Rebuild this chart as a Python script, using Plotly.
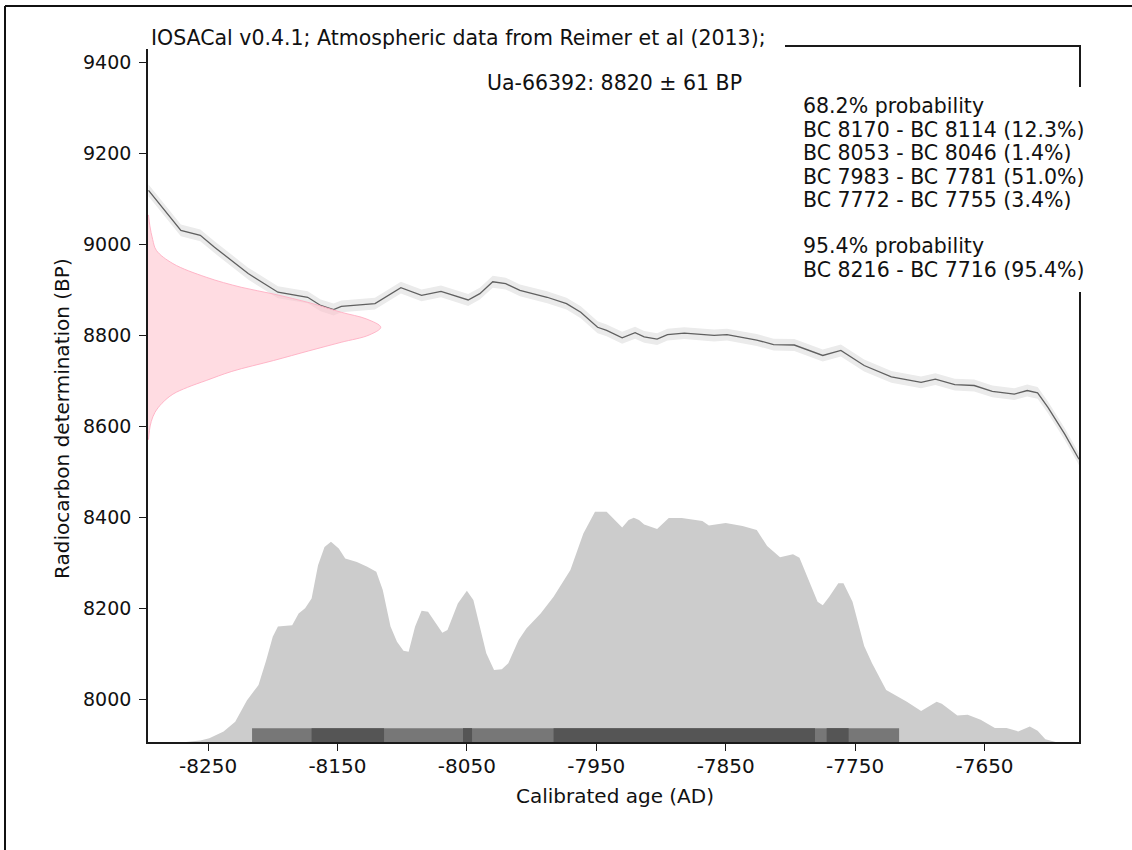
import plotly.graph_objects as go

# ---------------- data ----------------
# calibration curve (IntCal13 excerpt)
cal_years = [-8296, -8271, -8256, -8245, -8219, -8196, -8173, -8163, -8153, -8147,
             -8121, -8101, -8085, -8070, -8049, -8040, -8030, -8020, -8009, -7988,
             -7973, -7962, -7949, -7942, -7930, -7920, -7913, -7903, -7895, -7882,
             -7859, -7849, -7826, -7813, -7797, -7775, -7761, -7743, -7722, -7699,
             -7688, -7673, -7658, -7644, -7627, -7617, -7609, -7601, -7588, -7577]
cal_bp = [9118, 9030, 9019, 8993, 8935, 8894, 8883, 8865, 8856, 8863,
          8869, 8904, 8887, 8896, 8877, 8891, 8917, 8913, 8898, 8883,
          8869, 8850, 8817, 8810, 8794, 8805, 8796, 8791, 8801, 8804,
          8799, 8801, 8789, 8779, 8778, 8755, 8766, 8733, 8708, 8696,
          8703, 8691, 8689, 8676, 8670, 8678, 8673, 8641, 8582, 8527]
cal_sigma = [13, 13, 13, 13, 13, 13, 13, 13, 13, 13,
             13, 13, 13, 13, 13, 13, 13, 13, 13, 13,
             13, 13, 13, 13, 13, 13, 13, 13, 13, 13,
             13, 13, 13, 13, 13, 13, 13, 13, 13, 13,
             13, 13, 13, 13, 13, 13, 13, 13, 13, 13]

# radiocarbon determination density (relative), Ua-66392: 8820 +/- 61 BP
rc_bp = [9064, 9040, 9010, 8986, 8957, 8927, 8905, 8890, 8870, 8850, 8835, 8817,
         8800, 8784, 8765, 8744, 8720, 8700, 8685, 8670, 8650, 8630, 8610, 8590, 8570]
rc_density = [0.002, 0.008, 0.02, 0.036, 0.107, 0.25, 0.40, 0.54, 0.70, 0.83, 0.94, 1.0,
              0.95, 0.83, 0.69, 0.54, 0.36, 0.25, 0.17, 0.107, 0.06, 0.03, 0.014, 0.006, 0.002]

# calibrated age density (relative)
calib_years = [-8267, -8256, -8249, -8238, -8229, -8220, -8211, -8205, -8200, -8196,
               -8185, -8180, -8175, -8170, -8165, -8160, -8155, -8149, -8144, -8135,
               -8127, -8120, -8115, -8109, -8104, -8099, -8095, -8090, -8085, -8080,
               -8069, -8065, -8057, -8050, -8045, -8040, -8035, -8029, -8023, -8018,
               -8010, -8004, -7993, -7983, -7970, -7960, -7951, -7942, -7937, -7930,
               -7925, -7921, -7917, -7913, -7903, -7894, -7884, -7868, -7863, -7850,
               -7837, -7826, -7818, -7808, -7798, -7793, -7779, -7775, -7770, -7763,
               -7759, -7752, -7743, -7737, -7726, -7710, -7699, -7687, -7683, -7671,
               -7663, -7653, -7642, -7633, -7624, -7615, -7609, -7603, -7595]
calib_density = [0.0, 0.006, 0.016, 0.045, 0.088, 0.18, 0.247, 0.355, 0.456, 0.50,
                 0.506, 0.557, 0.579, 0.622, 0.766, 0.845, 0.867, 0.838, 0.795, 0.78,
                 0.759, 0.737, 0.658, 0.50, 0.434, 0.395, 0.391, 0.50, 0.568, 0.564,
                 0.473, 0.485, 0.60, 0.655, 0.615, 0.50, 0.384, 0.312, 0.315, 0.341,
                 0.442, 0.492, 0.557, 0.629, 0.745, 0.903, 0.997, 0.997, 0.968, 0.929,
                 0.961, 0.971, 0.962, 0.942, 0.923, 0.97, 0.97, 0.957, 0.938, 0.949,
                 0.935, 0.918, 0.849, 0.80, 0.813, 0.798, 0.607, 0.592, 0.629, 0.688,
                 0.688, 0.607, 0.416, 0.342, 0.225, 0.174, 0.134, 0.174, 0.166, 0.115,
                 0.118, 0.096, 0.061, 0.061, 0.046, 0.067, 0.049, 0.012, 0.0]

# highest posterior density intervals
hpd68_start = [-8170, -8053, -7983, -7772]
hpd68_end = [-8114, -8046, -7781, -7755]
hpd68_pct = [12.3, 1.4, 51.0, 3.4]
hpd95_start = [-8216]
hpd95_end = [-7716]
hpd95_pct = [95.4]

x_ticks = [-8250, -8150, -8050, -7950, -7850, -7750, -7650]
x_tick_labels = ["-8250", "-8150", "-8050", "-7950", "-7850", "-7750", "-7650"]
y_ticks = [8000, 8200, 8400, 8600, 8800, 9000, 9200, 9400]
y_tick_labels = ["8000", "8200", "8400", "8600", "8800", "9000", "9200", "9400"]

sample_label = "Ua-66392: 8820 ± 61 BP"
title_text = "IOSACal v0.4.1; Atmospheric data from Reimer et al (2013);"

# ---------------- layout helpers ----------------
W, H = 1132, 850
L, R, T, B = 148, 1079, 47, 742
PW, PH = R - L, B - T
FONT = "DejaVu Sans"


def px_x(x):
    return (x - L) / PW


def px_y(y):
    return (B - y) / PH


fig = go.Figure()

# calibration curve band
upper = [b + s for b, s in zip(cal_bp, cal_sigma)]
lower = [b - s for b, s in zip(cal_bp, cal_sigma)]
fig.add_trace(go.Scatter(x=cal_years, y=upper, mode="lines", line=dict(width=0, color="#ebebeb"),
                         hoverinfo="skip", showlegend=False))
fig.add_trace(go.Scatter(x=cal_years, y=lower, mode="lines", line=dict(width=0, color="#ebebeb"),
                         fill="tonexty", fillcolor="#ebebeb", hoverinfo="skip", showlegend=False))
fig.add_trace(go.Scatter(x=cal_years, y=cal_bp, mode="lines", line=dict(width=1.3, color="#606060"),
                         showlegend=False))

# radiocarbon determination (pink, horizontal)
fig.add_trace(go.Scatter(x=rc_density, y=rc_bp, xaxis="x2", yaxis="y", mode="lines",
                         line=dict(width=1, color="rgba(255,175,195,0.9)", shape="spline"),
                         fill="tozerox", fillcolor="rgba(255,192,203,0.55)", showlegend=False))

# calibrated distribution (grey)
fig.add_trace(go.Scatter(x=calib_years, y=calib_density, xaxis="x", yaxis="y2", mode="lines",
                         line=dict(width=0, color="#cccccc"), fill="tozeroy", fillcolor="#cccccc",
                         showlegend=False))

# HPD bars
BAR_H = 0.06
for s, e in zip(hpd95_start, hpd95_end):
    fig.add_trace(go.Scatter(x=[s, e, e, s, s], y=[0, 0, BAR_H, BAR_H, 0], xaxis="x", yaxis="y2",
                             mode="lines", line=dict(width=0), fill="toself", fillcolor="#777777",
                             showlegend=False))
for s, e in zip(hpd68_start, hpd68_end):
    fig.add_trace(go.Scatter(x=[s, e, e, s, s], y=[0, 0, BAR_H, BAR_H, 0], xaxis="x", yaxis="y2",
                             mode="lines", line=dict(width=0), fill="toself", fillcolor="#555555",
                             showlegend=False))

axis_common = dict(showgrid=False, zeroline=False, showline=True, linecolor="#1a1a1a", linewidth=1.6,
                   mirror=True, ticks="outside", ticklen=7, tickwidth=1.4, tickcolor="#1a1a1a")

fig.update_layout(
    width=W, height=H,
    margin=dict(l=L, r=W - R, t=T, b=H - B, pad=0),
    paper_bgcolor="white", plot_bgcolor="white",
    font=dict(family=FONT, color="#111"),
    xaxis=dict(range=[-8296.4, -7577], tickvals=x_ticks, ticktext=x_tick_labels, ticklabelstandoff=-2,
               tickfont=dict(family=FONT, size=20, color="#111"), **axis_common),
    yaxis=dict(range=[7905.5, 9433], tickvals=y_ticks, ticktext=y_tick_labels, ticklabelstandoff=4,
               tickfont=dict(family=FONT, size=19, color="#111"), **axis_common),
    xaxis2=dict(overlaying="x", range=[0, 4.0], visible=False, side="top"),
    yaxis2=dict(overlaying="y", range=[0, 3.01], visible=False, side="right"),
)

# white boxes behind texts (cover the frame as in the original)
fig.add_shape(type="rect", xref="paper", yref="paper", x0=px_x(140), x1=px_x(785), y0=px_y(49), y1=px_y(15),
              fillcolor="white", line=dict(width=0), layer="above")
fig.add_shape(type="rect", xref="paper", yref="paper", x0=px_x(795), x1=px_x(1095), y0=px_y(292), y1=px_y(87),
              fillcolor="white", line=dict(width=0), layer="above")

# outer figure frame (left and top edges)
fig.add_shape(type="line", xref="paper", yref="paper", x0=px_x(5), x1=px_x(5), y0=px_y(6), y1=px_y(852),
              line=dict(color="#111", width=2))
fig.add_shape(type="line", xref="paper", yref="paper", x0=px_x(5), x1=px_x(1134), y0=px_y(6), y1=px_y(6),
              line=dict(color="#111", width=2))

ann = []
ann.append(dict(text=title_text, x=px_x(149), y=px_y(38), xanchor="left", yanchor="middle",
                font=dict(family=FONT, size=20.5, color="#111")))
ann.append(dict(text=sample_label, x=px_x(614), y=px_y(83), xanchor="center", yanchor="middle",
                font=dict(family=FONT, size=20.5, color="#111")))

lines = ["68.2% probability"]
for s, e, p in zip(hpd68_start, hpd68_end, hpd68_pct):
    lines.append(f"BC {-s} - BC {-e} ({p:.1f}%)")
lines.append("")
lines.append("95.4% probability")
for s, e, p in zip(hpd95_start, hpd95_end, hpd95_pct):
    lines.append(f"BC {-s} - BC {-e} ({p:.1f}%)")
line_y = [106, 129.7, 153.3, 176.6, 200, 223, 246.3, 270]
for txt, yy in zip(lines, line_y):
    if txt:
        ann.append(dict(text=txt, x=px_x(801), y=px_y(yy), xanchor="left", yanchor="middle",
                        font=dict(family=FONT, size=20.5, color="#111")))

# axis titles
ann.append(dict(text="Calibrated age (AD)", x=px_x(615), y=px_y(796), xanchor="center", yanchor="middle",
                font=dict(family=FONT, size=20, color="#111")))
ann.append(dict(text="Radiocarbon determination (BP)", x=px_x(62), y=px_y(419), xanchor="center",
                yanchor="middle", textangle=-90, font=dict(family=FONT, size=20, color="#111")))

for a in ann:
    a.update(xref="paper", yref="paper", showarrow=False)
fig.update_layout(annotations=ann)

fig.write_html("out.html")
